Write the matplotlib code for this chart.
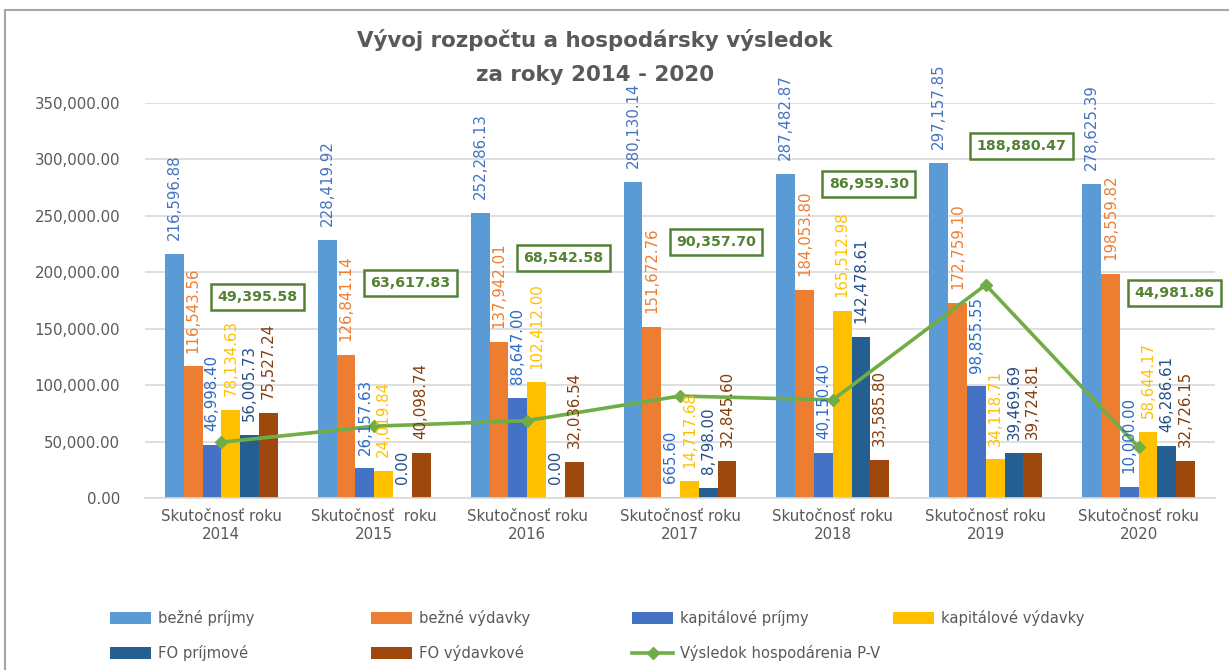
import numpy as np
import matplotlib
matplotlib.use('Agg')
import matplotlib.pyplot as plt
from matplotlib.lines import Line2D

# data
roky = ['Skutočnosť roku\n2014', 'Skutočnosť  roku\n2015', 'Skutočnosť roku\n2016',
        'Skutočnosť roku\n2017', 'Skutočnosť roku\n2018', 'Skutočnosť roku\n2019',
        'Skutočnosť roku\n2020']
bezne_prijmy = [216596.88, 228419.92, 252286.13, 280130.14, 287482.87, 297157.85, 278625.39]
bezne_vydavky = [116543.56, 126841.14, 137942.01, 151672.76, 184053.80, 172759.10, 198559.82]
kapitalove_prijmy = [46998.40, 26157.63, 88647.00, 665.60, 40150.40, 98855.55, 10000.00]
kapitalove_vydavky = [78134.63, 24019.84, 102412.00, 14717.68, 165512.98, 34118.71, 58644.17]
fo_prijmove = [56005.73, 0.00, 0.00, 8798.00, 142478.61, 39469.69, 46286.61]
fo_vydavkove = [75527.24, 40098.74, 32036.54, 32845.60, 33585.80, 39724.81, 32726.15]
vysledok = [49395.58, 63617.83, 68542.58, 90357.70, 86959.30, 188880.47, 44981.86]

serie = [
    ('bežné príjmy', bezne_prijmy, '#5B9BD5', '#4472C4'),
    ('bežné výdavky', bezne_vydavky, '#ED7D31', '#ED7D31'),
    ('kapitálové príjmy', kapitalove_prijmy, '#4472C4', '#2E6BC6'),
    ('kapitálové výdavky', kapitalove_vydavky, '#FFC000', '#FFC000'),
    ('FO príjmové', fo_prijmove, '#255E91', '#264E86'),
    ('FO výdavkové', fo_vydavkove, '#9E480E', '#843C0C'),
]

# where the boxed result labels were dragged to (y in axis units)
stitok_y = [178000, 190500, 212600, 226800, 278200, 311900, 181700]

plt.rcParams['font.family'] = ['DejaVu Sans']
siva = '#595959'
zelena = '#70AD47'
tmavozelena = '#548235'

fig = plt.figure(figsize=(12.29, 6.70), dpi=100)
ax = fig.add_axes([145 / 1229, 1 - 498 / 670, 1070 / 1229, 395 / 670])

x = np.arange(len(roky))
sirka = 0.123
handles = []
for i, (nazov, hodnoty, farba, farba_txt) in enumerate(serie):
    pos = x + (i - 2.5) * sirka
    b = ax.bar(pos, hodnoty, width=sirka, color=farba, label=nazov, zorder=2)
    handles.append(b)
    for px, h in zip(pos, hodnoty):
        ax.annotate(f'{h:,.2f}', xy=(px, h), xytext=(0, 10), textcoords='offset points',
                    rotation=90, ha='center', va='bottom', fontsize=10.8, color=farba_txt,
                    zorder=4)

ciara, = ax.plot(x, vysledok, color=zelena, lw=2.6, marker='D', markersize=6,
                 label='Výsledok hospodárenia P-V', zorder=3)
handles.append(ciara)
for px, v, ly in zip(x, vysledok, stitok_y):
    ax.text(px + 0.235, ly, f'{v:,.2f}', ha='center', va='center', fontsize=10.2,
            fontweight='bold', color=tmavozelena, zorder=5,
            bbox=dict(boxstyle='square,pad=0.45', fc='white', ec=tmavozelena, lw=1.8))

ax.set_xlim(-0.5, len(roky) - 0.5)
ax.set_ylim(0, 350000)
ax.set_yticks(np.arange(0, 350001, 50000))
ax.yaxis.set_major_formatter(matplotlib.ticker.FuncFormatter(lambda v, p: f'{v:,.2f}'))
ax.set_xticks(x)
ax.set_xticklabels(roky)
ax.tick_params(axis='both', length=0, labelsize=10.8, colors=siva)
ax.tick_params(axis='y', pad=18)
ax.tick_params(axis='x', pad=8)
ax.grid(axis='y', color='#D9D9D9', lw=1.2, zorder=0)
ax.set_axisbelow(True)
for s in ['top', 'right', 'left']:
    ax.spines[s].set_visible(False)
ax.spines['bottom'].set_color('#D9D9D9')
ax.spines['bottom'].set_linewidth(1.2)

fig.text(0.484, 1 - 40 / 670, 'Vývoj rozpočtu a hospodársky výsledok', ha='center', va='center',
         fontsize=15.4, fontweight='bold', color=siva)
fig.text(0.484, 1 - 75 / 670, 'za roky 2014 - 2020', ha='center', va='center',
         fontsize=15.4, fontweight='bold', color=siva)

# legend in 4 fixed columns
labels = [h.get_label() for h in handles]
poradie = [[0, 4], [1, 5], [2, 6], [3]]
for k, stlpec in enumerate(poradie):
    fig.legend([handles[j] for j in stlpec], [labels[j] for j in stlpec],
               loc='upper left', bbox_to_anchor=((110 + 261 * k) / 1229, 1 - 610 / 670),
               frameon=False, fontsize=10.6, handlelength=2.8, handleheight=0.8,
               handletextpad=0.45, labelspacing=1.3, borderpad=0, borderaxespad=0,
               labelcolor=siva)

# chart frame (cut off on the right and bottom)
fig.add_artist(Line2D([5 / 1229, 5 / 1229], [0, 1 - 10 / 670], transform=fig.transFigure,
                      color='#A6A6A6', lw=1.5))
fig.add_artist(Line2D([5 / 1229, 1], [1 - 10 / 670, 1 - 10 / 670], transform=fig.transFigure,
                      color='#A6A6A6', lw=1.5))

fig.savefig('out.png', dpi=100)
